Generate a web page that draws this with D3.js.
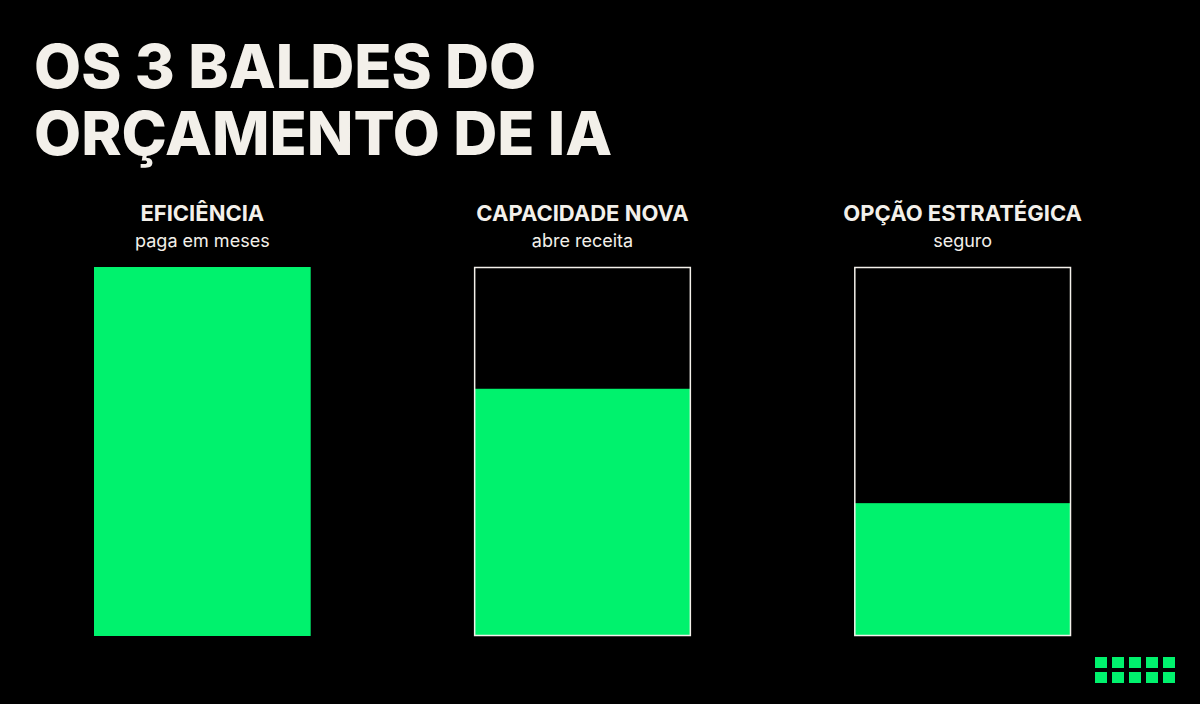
<!DOCTYPE html><html><head><meta charset="utf-8"><script src="https://cdn.jsdelivr.net/npm/d3@7"></script>
<style>body{margin:0;background:#000}</style></head><body><svg id="c" width="1200" height="704"></svg><script>
const categories=["EFICIÊNCIA","CAPACIDADE NOVA","OPÇÃO ESTRATÉGICA"];
const subtitles=["paga em meses","abre receita","seguro"];
const fillPct=[100,67,36];
const outlined=[false,true,true];
const titleLines=["OS 3 BALDES DO","ORÇAMENTO DE IA"];
const green="#00f26d";
const svg=d3.select("#c");
svg.append("rect").attr("width",1200).attr("height",704).attr("fill","#000");
svg.selectAll("text.t").data(titleLines).join("text").attr("x",34).attr("y",(d,i)=>88+i*67)
 .attr("font-family","Inter").attr("font-weight",800).attr("font-size",61).attr("fill","#f3f0ea").text(d=>d);
const x=d3.scaleBand().domain(categories).range([94,1071]).paddingInner(0.43);
const y=d3.scaleLinear().domain([0,100]).range([636,267]);
const g=svg.selectAll("g.b").data(categories).join("g");
g.append("rect").attr("x",d=>x(d)).attr("width",x.bandwidth()).attr("y",(d,i)=>y(fillPct[i])).attr("height",(d,i)=>y(0)-y(fillPct[i])).attr("fill",green);
g.filter((d,i)=>outlined[i]).append("rect").attr("x",d=>x(d)+0.5).attr("y",y(100)+0.5).attr("width",x.bandwidth()-1).attr("height",y(0)-y(100)-1).attr("fill","none").attr("stroke","#f3f0ea").attr("stroke-width",1.5);
g.append("text").attr("x",d=>x(d)+x.bandwidth()/2).attr("y",221).attr("text-anchor","middle").attr("font-family","Inter").attr("font-weight",700).attr("font-size",22).attr("fill","#f3f0ea").text(d=>d);
g.append("text").attr("x",d=>x(d)+x.bandwidth()/2).attr("y",247).attr("text-anchor","middle").attr("font-family","Inter").attr("font-size",18).attr("fill","#f3f0ea").text((d,i)=>subtitles[i]);
const dots=d3.range(10);
svg.selectAll("rect.d").data(dots).join("rect").attr("x",d=>1095+(d%5)*17).attr("y",d=>657+Math.floor(d/5)*15).attr("width",12).attr("height",11).attr("fill",green);
</script></body></html>
